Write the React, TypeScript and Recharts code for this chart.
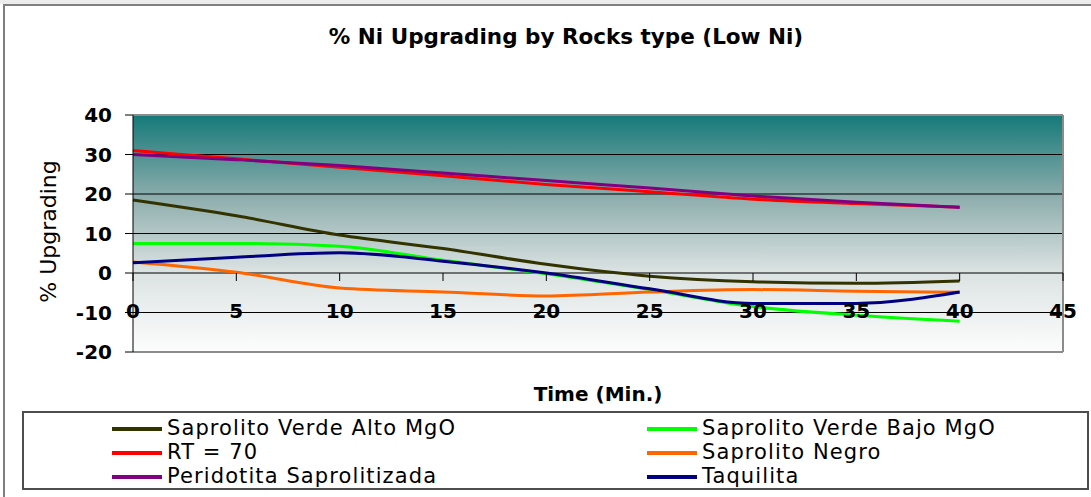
import React from 'react';
import { LineChart, Line, XAxis, YAxis, CartesianGrid, Legend, ReferenceLine } from 'recharts';

// minutes on the x axis
const minutes = [0, 5, 10, 15, 20, 25, 30, 35, 40];

// % upgrading per rock type
const altoMgO = [18.5, 14.5, 9.6, 6.2, 2.2, -0.8, -2.2, -2.6, -2.0];
const bajoMgO = [7.5, 7.5, 6.8, 3.2, -0.2, -4.2, -8.5, -10.7, -12.2];
const rt70 = [31, 28.9, 26.8, 24.6, 22.4, 20.6, 18.7, 17.6, 16.7];
const negro = [2.8, 0.2, -3.8, -4.8, -5.8, -4.8, -4.2, -4.6, -4.9];
const peridotita = [30, 28.7, 27.2, 25.3, 23.4, 21.5, 19.5, 17.9, 16.6];
const taquilita = [2.6, 4.0, 5.1, 3.0, 0.0, -4.0, -7.7, -7.7, -4.8];

const xTicks = [0, 5, 10, 15, 20, 25, 30, 35, 40, 45];
const yTicks = [-20, -10, 0, 10, 20, 30, 40];
const gridValues = [-10, 10, 20, 30];

const series = [
  { key: 'alto', name: 'Saprolito Verde Alto MgO', color: '#333300', values: altoMgO },
  { key: 'bajo', name: 'Saprolito Verde Bajo MgO', color: '#00ff00', values: bajoMgO },
  { key: 'rt', name: 'RT = 70', color: '#ff0000', values: rt70 },
  { key: 'negro', name: 'Saprolito Negro', color: '#ff6600', values: negro },
  { key: 'peri', name: 'Peridotita Saprolitizada', color: '#800080', values: peridotita },
  { key: 'taq', name: 'Taquilita', color: '#000080', values: taquilita },
];

const data = minutes.map((t, i) => {
  const row: Record<string, number> = { t };
  series.forEach(s => { row[s.key] = s.values[i]; });
  return row;
});

const FONT = '"DejaVu Sans", Verdana, sans-serif';
const PLOT_TOP = 115;
const PLOT_BOTTOM = 352;
const Y_MIN = -20;
const Y_MAX = 40;
// pixel row of the value 0, where Excel drew the category axis
const zeroY = PLOT_TOP + ((Y_MAX - 0) / (Y_MAX - Y_MIN)) * (PLOT_BOTTOM - PLOT_TOP);

function XTick(props: any) {
  const { x, payload } = props;
  return (
    <g>
      <line x1={x} y1={zeroY} x2={x} y2={zeroY + 8} stroke="#000" strokeWidth={1} />
      <text x={x} y={zeroY + 45} textAnchor="middle" fontFamily={FONT} fontWeight="bold" fontSize={20} fill="#000">
        {payload.value}
      </text>
    </g>
  );
}

function YTitle(props: any) {
  const vb = props.viewBox || { x: 73, y: PLOT_TOP, width: 60, height: PLOT_BOTTOM - PLOT_TOP };
  const cx = vb.x - 25;
  const cy = vb.y + vb.height / 2 - 2;
  return (
    <text x={cx} y={cy} transform={`rotate(-90 ${cx} ${cy})`} textAnchor="middle" dominantBaseline="central"
      fontFamily={FONT} fontSize={22} fill="#000">
      % Upgrading
    </text>
  );
}

function XTitle(props: any) {
  const vb = props.viewBox || { x: 133, y: PLOT_BOTTOM, width: 930, height: 30 };
  return (
    <text x={vb.x + vb.width / 2} y={PLOT_BOTTOM + 49} textAnchor="middle" fontFamily={FONT}
      fontWeight="bold" fontSize={20} fill="#000">
      Time (Min.)
    </text>
  );
}

function LegendBox() {
  return (
    <div style={{
      boxSizing: 'border-box', width: 1067, height: 79, border: '2px solid #4d4d4d', background: '#fff',
      padding: '3px 0 0 88px', display: 'grid', gridTemplateColumns: '535px 1fr', gridAutoRows: '24px',
      fontFamily: FONT, fontSize: 21, lineHeight: '24px', letterSpacing: 1.1, color: '#000',
    }}>
      {series.map(s => (
        <div key={s.key} style={{ display: 'flex', alignItems: 'center', whiteSpace: 'nowrap' }}>
          <span style={{ display: 'inline-block', width: 50, height: 4, background: s.color, marginRight: 5, marginTop: 2 }} />
          {s.name}
        </div>
      ))}
    </div>
  );
}

export default function App() {
  return (
    <div style={{ position: 'absolute', left: 0, top: 0, width: 1091, height: 497, background: '#fff', overflow: 'hidden' }}>
      <div style={{ position: 'absolute', left: 0, top: 0, width: 1091, height: 4, background: '#ececec' }} />
      <div style={{ position: 'absolute', left: 3, top: 4, right: -4, bottom: -4, borderTop: '2px solid #7f7f7f', borderLeft: '2px solid #7f7f7f' }} />
      <div style={{
        position: 'absolute', left: 0, top: 25, width: 1132, textAlign: 'center', fontFamily: FONT,
        fontWeight: 'bold', fontSize: 21.5, lineHeight: '24px', color: '#000',
      }}>
        % Ni Upgrading by Rocks type (Low Ni)
      </div>
      <div style={{ position: 'absolute', left: 0, top: 0 }}>
        <LineChart width={1091} height={497} data={data} margin={{ top: PLOT_TOP, right: 28, bottom: 497 - PLOT_BOTTOM - 30, left: 73 }}>
          <defs>
            <linearGradient id="plotBg" x1="0" y1="0" x2="0" y2="1">
              <stop offset="0" stopColor="#157979" />
              <stop offset="0.35" stopColor="#8eaead" />
              <stop offset="0.66" stopColor="#dbe2e2" />
              <stop offset="1" stopColor="#fdfdfd" />
            </linearGradient>
          </defs>
          <CartesianGrid vertical={false} horizontal={false} fill="url(#plotBg)" fillOpacity={1} />
          {gridValues.map(v => (
            <ReferenceLine key={v} y={v} stroke="#000" strokeWidth={1} />
          ))}
          <ReferenceLine y={Y_MAX} stroke="#8c8c8c" strokeWidth={2} />
          <ReferenceLine y={Y_MIN} stroke="#8c8c8c" strokeWidth={2} />
          <ReferenceLine x={45} stroke="#8c8c8c" strokeWidth={2} />
          <ReferenceLine y={0} stroke="#000" strokeWidth={1} />
          <XAxis type="number" dataKey="t" domain={[0, 45]} ticks={xTicks} interval={0} height={30}
            axisLine={false} tickLine={false} tickSize={0} tickMargin={0} tick={<XTick />}
            label={(p: any) => <XTitle {...p} />} />
          <YAxis type="number" domain={[Y_MIN, Y_MAX]} ticks={yTicks} interval={0} width={60}
            axisLine={{ stroke: '#000', strokeWidth: 1 }} tickLine={{ stroke: '#000' }} tickSize={8} tickMargin={13}
            tick={{ fontFamily: FONT, fontWeight: 'bold', fontSize: 20, fill: '#000' }}
            label={(p: any) => <YTitle {...p} />} />
          {series.map(s => (
            <Line key={s.key} type="monotone" dataKey={s.key} name={s.name} stroke={s.color} strokeWidth={3}
              dot={false} activeDot={false} isAnimationActive={false} />
          ))}
          <Legend layout="horizontal" verticalAlign="middle" align="center" content={<LegendBox />}
            wrapperStyle={{ left: 22, top: 411, width: 1067, height: 79 }} />
        </LineChart>
      </div>
    </div>
  );
}
